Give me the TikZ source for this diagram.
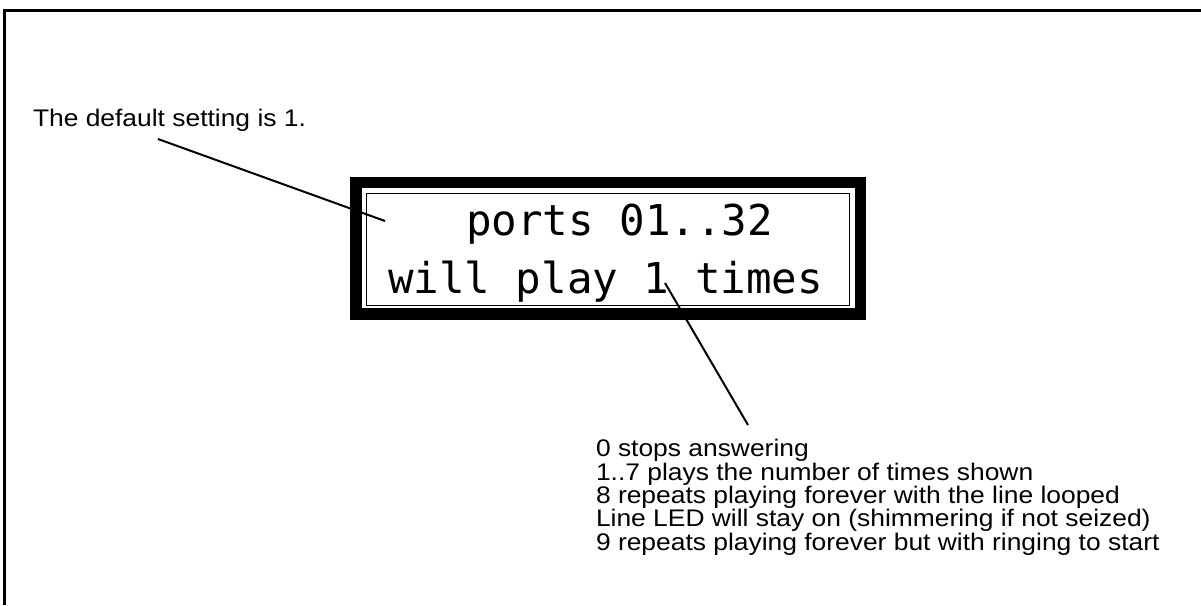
\documentclass[tikz,border=0pt]{standalone}
\usepackage{fontspec}
\setmainfont{Liberation Sans}
\newfontfamily\lcdfont{DejaVu Sans Mono}
\begin{document}
\begin{tikzpicture}[x=1pt,y=-1pt,
  label/.style={inner sep=0pt,outer sep=0pt,anchor=base west,align=left,
    font=\fontsize{24}{23.3}\selectfont,xscale=1.10,transform shape},
  lcd/.style={inner sep=0pt,outer sep=0pt,anchor=base west,
    font=\fontsize{42.5}{42.5}\lcdfont},
  leader/.style={line width=2pt}]
\useasboundingbox (0,0) rectangle (1201,605);
% frame
\draw[line width=3pt] (4.5,605) -- (4.5,10.5) -- (1201,10.5);
% display
\fill[black] (350,177) rectangle (866,320);
\fill[white] (362,188) rectangle (855,308);
\draw[line width=0.8pt] (366,193) rectangle (849,305);
\node[lcd] (l1) at (466,235) {ports 01..32};
\node[lcd] (l2) at (388,293) {will play 1 times};
% notes
\node[label] (def) at (33,126) {The default setting is 1.};
\node[label] (opts) at (596,550) {0 stops answering\\
1..7 plays the number of times shown\\
8 repeats playing forever with the line looped\\
Line LED will stay on (shimmering if not seized)\\
9 repeats playing forever but with ringing to start};
\coordinate (a1) at (158,139);
\coordinate (a2) at (385,221);
\coordinate (b1) at (665,283);
\coordinate (b2) at (748,425);
\draw[leader] (a1) -- (a2);
\draw[leader] (b1) -- (b2);
\end{tikzpicture}
\end{document}
